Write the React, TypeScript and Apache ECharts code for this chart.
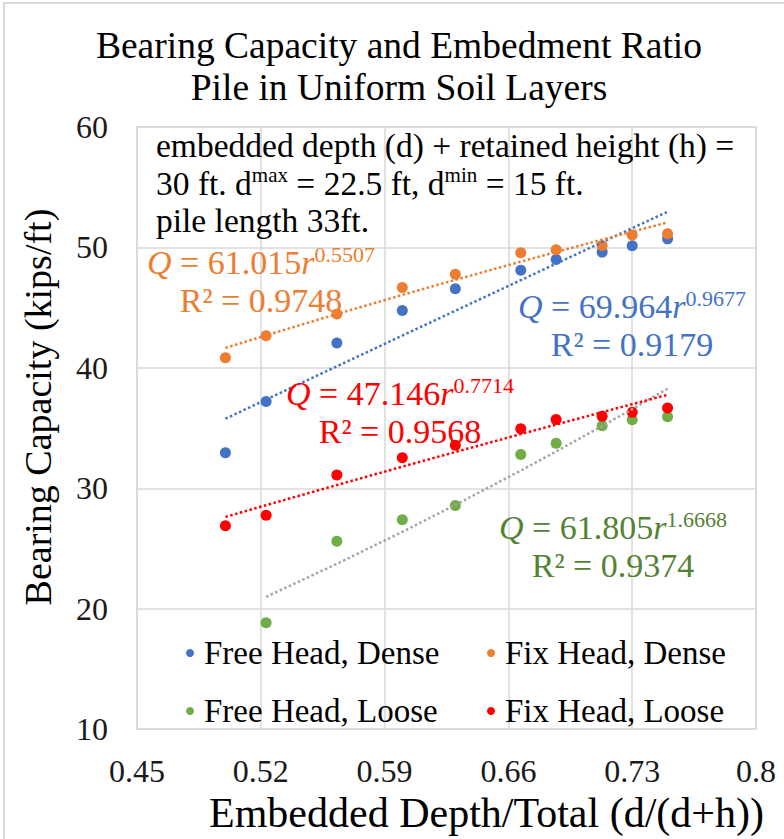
import React, { useEffect, useRef } from 'react';
import * as echarts from 'echarts';

const FONT = 'Liberation Serif, Times New Roman, serif';

// x tick labels (drawn on a category axis laid over the value axis)
const xTickLabels = ['0.45', '0.52', '0.59', '0.66', '0.73', '0.8'];

// embedment ratios r = d/(d+h)
const ratio = [0.5, 0.523, 0.563, 0.6, 0.63, 0.667, 0.687, 0.713, 0.73, 0.75];
const ratioLoose = [0.523, 0.563, 0.6, 0.63, 0.667, 0.687, 0.713, 0.73, 0.75];

// bearing capacity (kips/ft)
const freeHeadDense = [32.94, 37.2, 42.07, 44.76, 46.57, 48.1, 49.0, 49.61, 50.13, 50.71];
const fixHeadDense = [40.84, 42.67, 44.48, 46.68, 47.77, 49.56, 49.8, 50.16, 51.04, 51.14];
const freeHeadLoose = [18.83, 25.6, 27.38, 28.56, 32.8, 33.74, 35.19, 35.68, 35.93];
const fixHeadLoose = [26.89, 27.76, 31.11, 32.53, 33.58, 34.94, 35.71, 35.99, 36.32, 36.67];

const seriesNames = ['Free Head, Dense', 'Fix Head, Dense', 'Free Head, Loose', 'Fix Head, Loose'];
const seriesColors = ['#4472C4', '#ED7D31', '#70AD47', '#FF0000'];
const trendColors = ['#4472C4', '#ED7D31', '#A5A5A5', '#FF0000'];
const labelColors = ['#4472C4', '#ED7D31', '#548235', '#FF0000'];

// power trendlines Q = a * r^b (as printed on the chart)
const trendCoefA = ['69.964', '61.015', '61.805', '47.146'];
const trendExpB = ['0.9677', '0.5507', '1.6668', '0.7714'];
const trendR2 = ['0.9179', '0.9748', '0.9374', '0.9568'];

export default function App() {
  const ref = useRef<HTMLDivElement>(null);

  useEffect(() => {
    const chart = echarts.init(ref.current!, null, { renderer: 'svg' });
    const yData = [freeHeadDense, fixHeadDense, freeHeadLoose, fixHeadLoose];
    const xData = [ratio, ratio, ratioLoose, ratio];

    const scatter = seriesNames.map((name, i) => ({
      name,
      type: 'scatter',
      xAxisIndex: 0,
      yAxisIndex: 0,
      data: xData[i].map((x, j) => [x, yData[i][j]]),
      symbolSize: 11,
      itemStyle: { color: seriesColors[i], opacity: 1 },
      z: 2,
    }));

    const trends = seriesNames.map((name, i) => ({
      name: name + ' (trend)',
      type: 'line',
      xAxisIndex: 0,
      yAxisIndex: 0,
      data: xData[i].map((x) => [x, parseFloat(trendCoefA[i]) * Math.pow(x, parseFloat(trendExpB[i]))]),
      symbol: 'none',
      showSymbol: false,
      silent: true,
      lineStyle: { color: trendColors[i], width: 2.5, type: [2.5, 2.5] },
      z: 3,
    }));

    const eqPos = [
      { x: 632, y: 325 },
      { x: 261, y: 281 },
      { x: 613, y: 546 },
      { x: 400, y: 412 },
    ];

    const equations = seriesNames.map((_, i) => ({
      type: 'text',
      x: eqPos[i].x,
      y: eqPos[i].y,
      z: 10,
      style: {
        text: `{i|Q} = ${trendCoefA[i]}{i|r}{s|${trendExpB[i]}}\nR² = ${trendR2[i]}`,
        align: 'center',
        verticalAlign: 'middle',
        fill: labelColors[i],
        fontSize: 34,
        fontFamily: FONT,
        lineHeight: 38,
        rich: {
          i: { fontStyle: 'italic', fontSize: 34, fontFamily: FONT, fill: labelColors[i], lineHeight: 38 },
          s: { fontSize: 22, fontFamily: FONT, fill: labelColors[i], lineHeight: 14, verticalAlign: 'top' },
        },
      },
    }));

    const legendBase = {
      orient: 'vertical',
      top: 633,
      padding: 0,
      itemWidth: 18,
      itemHeight: 8,
      itemGap: 18,
      icon: 'circle',
      textStyle: { fontSize: 33, lineHeight: 40, color: '#000000', fontFamily: FONT },
    };

    const option: any = {
      animation: false,
      backgroundColor: '#ffffff',
      textStyle: { fontFamily: FONT },
      title: {
        text: 'Bearing Capacity and Embedment Ratio\nPile in Uniform Soil Layers',
        left: 394,
        top: 19,
        textAlign: 'center',
        textStyle: { fontSize: 37.5, lineHeight: 42, fontWeight: 'normal', color: '#000000', fontFamily: FONT },
      },
      grid: {
        left: 137,
        right: 28,
        top: 127,
        bottom: 104,
        show: true,
        borderColor: '#d9d9d9',
        borderWidth: 1.5,
        backgroundColor: 'transparent',
      },
      legend: [
        { ...legendBase, data: [seriesNames[0], seriesNames[2]], left: 186 },
        { ...legendBase, data: [seriesNames[1], seriesNames[3]], left: 487 },
      ],
      xAxis: [
        { type: 'value', min: 0.45, max: 0.8, show: false },
        {
          type: 'category',
          data: xTickLabels,
          boundaryGap: false,
          position: 'bottom',
          axisLine: { show: false },
          axisTick: { show: false },
          axisLabel: { interval: 0, fontSize: 32, color: '#1a1a1a', margin: 26, fontFamily: FONT },
          splitLine: { show: true, interval: 0, lineStyle: { color: '#d9d9d9', width: 1.5 } },
          name: 'Embedded Depth/Total (d/(d+h))',
          nameLocation: 'middle',
          nameGap: 62,
          nameTextStyle: { fontSize: 42, color: '#000000', fontFamily: FONT, padding: [0, 0, 0, 80] },
        },
      ],
      yAxis: {
        type: 'value',
        min: 10,
        max: 60,
        interval: 10,
        axisLine: { show: false },
        axisTick: { show: false },
        axisLabel: { fontSize: 32, color: '#1a1a1a', margin: 29, fontFamily: FONT },
        splitLine: { show: true, lineStyle: { color: '#d9d9d9', width: 1.5 } },
        name: 'Bearing Capacity (kips/ft)',
        nameLocation: 'middle',
        nameGap: 80,
        nameTextStyle: { fontSize: 38, color: '#000000', fontFamily: FONT, padding: [0, 0, 0, 42] },
      },
      graphic: [
        {
          type: 'rect',
          shape: { x: 4, y: 3, width: 800, height: 850 },
          style: { fill: 'none', stroke: '#d9d9d9', lineWidth: 2 },
          z: -10,
          silent: true,
        },
        {
          type: 'text',
          x: 156,
          y: 127,
          z: 10,
          style: {
            text:
              'embedded depth (d) + retained height (h) =\n30 ft. d{s|max} = 22.5 ft, d{s|min} = 15 ft.\npile length 33ft.',
            align: 'left',
            verticalAlign: 'top',
            fill: '#000000',
            fontSize: 33.5,
            fontFamily: FONT,
            lineHeight: 37.5,
            rich: {
              s: { fontSize: 21, fontFamily: FONT, fill: '#000000', lineHeight: 14, verticalAlign: 'top' },
            },
          },
        },
        ...equations,
      ],
      series: [...scatter, ...trends],
    };

    chart.setOption(option);
    return () => chart.dispose();
  }, []);

  return <div ref={ref} style={{ position: 'absolute', left: 0, top: 0, width: 784, height: 839 }} />;
}
